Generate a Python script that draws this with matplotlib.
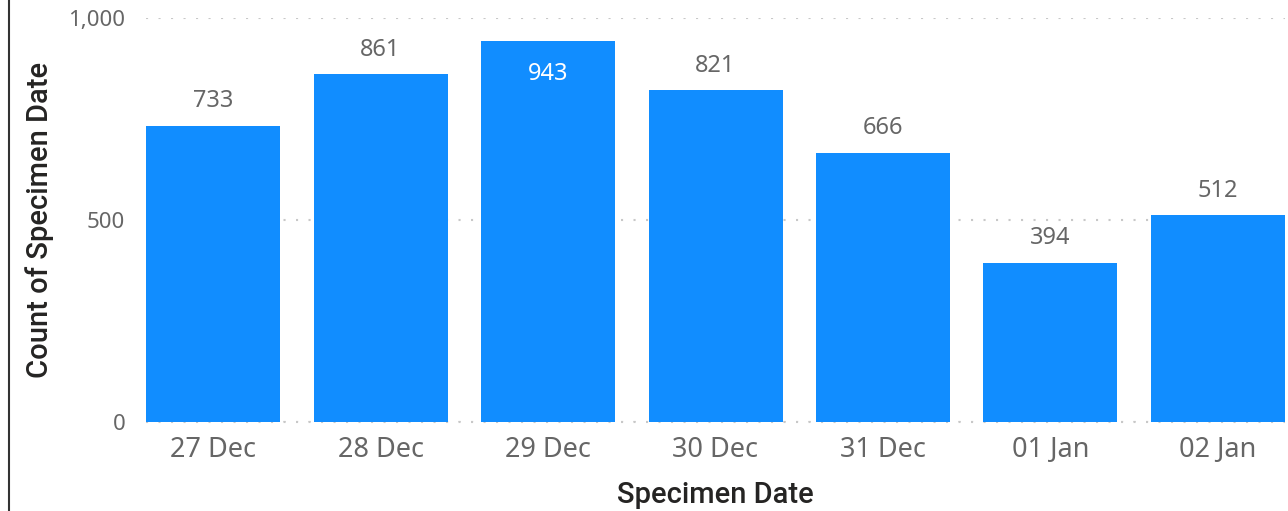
import matplotlib
matplotlib.use("Agg")
import matplotlib.pyplot as plt
from matplotlib.lines import Line2D

dates = ["27 Dec", "28 Dec", "29 Dec", "30 Dec", "31 Dec", "01 Jan", "02 Jan"]
counts = [733, 861, 943, 821, 666, 394, 512]
yticks = [0, 500, 1000]

BAR = "#118DFF"
GRAY = "#666666"
TITLE = "#252423"

fig = plt.figure(figsize=(12.88, 5.11), dpi=100)
ax = fig.add_axes([146 / 1288, 89 / 511, 1139 / 1288, 404 / 511])

x = list(range(len(dates)))
ax.bar(x, counts, width=0.8, color=BAR, zorder=2)
ax.set_xlim(-0.4, len(dates) - 0.6)
ax.set_ylim(0, 1000)

ax.set_yticks(yticks)
ax.set_yticklabels([f"{v:,}" for v in yticks])
ax.set_xticks(x)
ax.set_xticklabels(dates)
ax.tick_params(axis="both", length=0, labelcolor=GRAY)
ax.tick_params(axis="y", pad=15, labelsize=16)
ax.tick_params(axis="x", pad=10, labelsize=19.5)
for lab in ax.get_xticklabels() + ax.get_yticklabels():
    lab.set_family("Noto Sans")

ax.yaxis.grid(True, color="#C8C8C8", linestyle=(0, (1, 5)), linewidth=1.5, zorder=0)
ax.set_axisbelow(True)
ax.axhline(0, color="#C8C8C8", linestyle=(0, (1, 5)), linewidth=1.5, zorder=1, clip_on=False)
for s in ax.spines.values():
    s.set_visible(False)

# label sits inside the bar (white) when there is no room above it
for xi, v in zip(x, counts):
    if v > 900:
        ax.annotate(str(v), (xi, v), xytext=(0, -15), textcoords="offset points",
                    ha="center", va="top", color="white", fontsize=17, family="Noto Sans")
    else:
        ax.annotate(str(v), (xi, v), xytext=(0, 9), textcoords="offset points",
                    ha="center", va="bottom", color=GRAY, fontsize=17, family="Noto Sans")

ax.set_xlabel("Specimen Date", fontsize=21, color=TITLE, family="Roboto", weight="medium", labelpad=12)
ax.set_ylabel("Count of Specimen Date", fontsize=21, color=TITLE, family="Roboto", weight="medium", labelpad=10)

fig.add_artist(Line2D([9 / 1288, 9 / 1288], [0, 1], color="#333333", linewidth=1.5, transform=fig.transFigure))

fig.savefig("out.png", dpi=100)
